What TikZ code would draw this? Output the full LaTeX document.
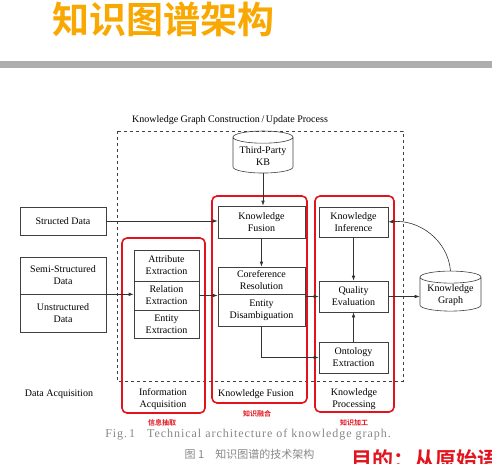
\documentclass[tikz,border=0pt]{standalone}
\usepackage{fontspec}
\setmainfont{Liberation Serif}
\newfontfamily\cjk{Noto Sans CJK SC}[BoldFont={Noto Sans CJK SC Bold}]
\usetikzlibrary{arrows.meta,shapes.geometric}
\definecolor{titleor}{RGB}{248,168,0}
\definecolor{redbox}{RGB}{225,20,30}
\definecolor{capgray}{RGB}{135,135,135}
\tikzset{
  box/.style={draw=black!75,line width=0.6pt,inner sep=1pt,align=center,font=\fontsize{10}{12}\selectfont},
  cyl/.style={draw=black!75,line width=0.6pt,cylinder,shape border rotate=90,aspect=0.25,align=center,font=\fontsize{10}{12}\selectfont,inner sep=1pt},
  lbl/.style={align=center,font=\fontsize{10}{12}\selectfont},
  redframe/.style={draw=redbox,line width=1.6pt,rounded corners=5pt},
  arr/.style={draw=black!80,line width=0.6pt,-{Latex[length=5pt,width=3.5pt]}},
  redlbl/.style={text=redbox,font=\cjk\bfseries\fontsize{7}{8}\selectfont},
}
\begin{document}
\begin{tikzpicture}[x=1pt,y=-1pt]
\clip (0,0) rectangle (492,463);
\useasboundingbox (0,0) rectangle (492,463);
% title and bar
\node[anchor=west,inner sep=0,text=titleor,font=\cjk\bfseries\fontsize{37}{40}\selectfont] (title) at (52,19) {知识图谱架构};
\fill[black!32] (0,61) rectangle (492,68);
% process frame
\node[lbl] (proc) at (230,120) {Knowledge Graph Construction\,/\,Update Process};
\draw[black!75,dashed,line width=0.6pt] (117,131) rectangle (403,381);
% red frames
\draw[redframe] (122,238) rectangle (205,413);
\draw[redframe] (212,196) rectangle (307,403);
\draw[redframe] (315,196) rectangle (394,412);
% sources
\node[box,minimum width=86,minimum height=28] (sd) at (63,221) {Structed Data};
\node[box,minimum width=86,minimum height=37] (semi) at (63,275.5) {Semi-Structured\\Data};
\node[box,minimum width=86,minimum height=38] (uns) at (63,313) {Unstructured\\Data};
% information acquisition
\node[box,minimum width=65,minimum height=31] (attr) at (166.5,265.5) {Attribute\\Extraction};
\node[box,minimum width=65,minimum height=29] (rel) at (166.5,295.5) {Relation\\Extraction};
\node[box,minimum width=65,minimum height=28] (ent) at (166.5,324) {Entity\\Extraction};
% knowledge fusion
\node[cyl,minimum width=60,minimum height=42] (tp) at (263,156) {Third-Party\\KB};
\node[box,minimum width=87,minimum height=32] (kf) at (261.5,222) {Knowledge\\Fusion};
\node[box,minimum width=87,minimum height=27] (coref) at (261.5,280.5) {Coreference\\Resolution};
\node[box,minimum width=87,minimum height=32] (dis) at (261.5,310) {Entity\\Disambiguation};
% knowledge processing
\node[box,minimum width=69,minimum height=30] (ki) at (353.5,222) {Knowledge\\Inference};
\node[box,minimum width=69,minimum height=31] (qe) at (353.5,296.5) {Quality\\Evaluation};
\node[box,minimum width=69,minimum height=31] (oe) at (353.5,357.5) {Ontology\\Extraction};
\node[cyl,minimum width=61,minimum height=40] (kg) at (450.5,295) {Knowledge\\Graph};
% arrows
\draw[arr] (tp.south) -- (tp.south |- kf.north);
\draw[arr] (sd.east) -- (sd.east -| kf.west);
\draw[arr] (semi.south east) -- (semi.south east -| rel.west);
\draw[arr] (rel.east) -- (rel.east -| coref.west);
\draw[arr] (kf.south) -- (coref.north);
\draw[arr] (qe.west -| coref.east) -- (qe.west);
\draw[arr] (dis.south) |- (oe.west);
\draw[arr] (ki.south) -- (qe.north);
\draw[arr] (oe.north) -- (qe.south);
\draw[arr] (qe.east) -- (qe.east -| kg.west);
\draw[arr] (kg.north) to[out=95,in=5] (ki.east);
% bottom labels
\node[lbl] (da) at (59,394) {Data Acquisition};
\node[lbl] (ia) at (163,399.5) {Information\\Acquisition};
\node[lbl] (kfl) at (256,394) {Knowledge Fusion};
\node[lbl] (kpl) at (354,399.5) {Knowledge\\Processing};
\node[redlbl] (r1) at (162,423) {信息抽取};
\node[redlbl] (r2) at (257,414) {知识融合};
\node[redlbl] (r3) at (354,423) {知识加工};
% captions
\node[text=capgray,font=\fontsize{12}{14}\selectfont\addfontfeatures{LetterSpace=8}] (cap1) at (248,435) {Fig.\,1\quad Technical architecture of knowledge graph.};
\node[text=capgray,font=\cjk\fontsize{11}{13}\selectfont] (cap2) at (249.5,454) {图 1\quad 知识图谱的技术架构};
\node[anchor=west,inner sep=0,text=redbox,font=\cjk\bfseries\fontsize{21}{24}\selectfont] (goal) at (351,460) {目的：从原始语};
\end{tikzpicture}
\end{document}
